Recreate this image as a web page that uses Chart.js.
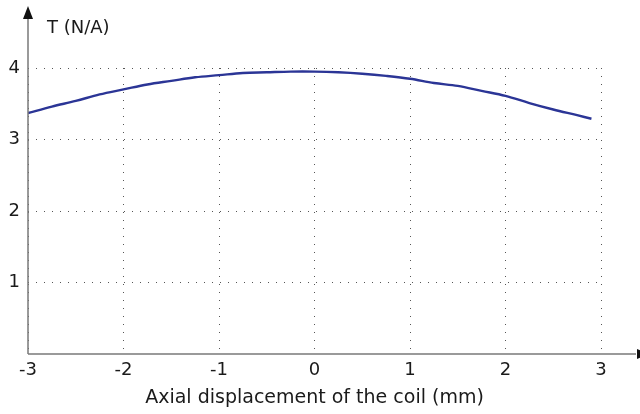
<!DOCTYPE html>
<html>
<head>
<meta charset="utf-8">
<script src="https://cdn.jsdelivr.net/npm/chart.js@4"></script>
<style>
  html, body { margin: 0; padding: 0; background: #fff; }
  #wrap { width: 640px; height: 414px; }
</style>
</head>
<body>
<div id="wrap"><canvas id="chart" width="640" height="414"></canvas></div>
<script>
'use strict';

// displacement of the coil (mm)
const displacement = [
    -3, -2.75, -2.5, -2.25, -2, -1.75, -1.5, -1.25, -1, -0.75, -0.5, -0.25,
    0, 0.25, 0.5, 0.75, 1, 1.25, 1.5, 1.75, 2, 2.25, 2.5, 2.75, 2.9
];
// force constant T (N/A)
const forceConstant = [
    3.37, 3.46, 3.54, 3.63, 3.70, 3.77, 3.82, 3.87, 3.90, 3.93, 3.94, 3.95,
    3.95, 3.94, 3.92, 3.89, 3.85, 3.79, 3.75, 3.68, 3.61, 3.51, 3.42, 3.34, 3.29
];
const xTicks = [-3, -2, -1, 0, 1, 2, 3];
const yTicks = [1, 2, 3, 4];

const fontFamily = '"Comic Sans MS", "DejaVu Sans", sans-serif';
const axisColor = '#7a7a7a';

// axes with arrow heads and the y axis caption
const axesPlugin = {
    id: 'axes',
    afterDraw(chart) {
        const ctx = chart.ctx;
        const area = chart.chartArea;
        ctx.save();
        ctx.strokeStyle = axisColor;
        ctx.lineWidth = 1.5;
        ctx.beginPath();
        ctx.moveTo(area.left, area.bottom);
        ctx.lineTo(area.left, 16);
        ctx.moveTo(area.left, area.bottom);
        ctx.lineTo(636, area.bottom);
        ctx.stroke();

        ctx.fillStyle = '#111';
        ctx.beginPath();
        ctx.moveTo(area.left, 6);
        ctx.lineTo(area.left - 5, 19);
        ctx.lineTo(area.left + 5, 19);
        ctx.closePath();
        ctx.fill();
        ctx.beginPath();
        ctx.moveTo(650, area.bottom);
        ctx.lineTo(637, area.bottom - 5);
        ctx.lineTo(637, area.bottom + 5);
        ctx.closePath();
        ctx.fill();

        ctx.fillStyle = '#1a1a1a';
        ctx.font = '18px ' + fontFamily;
        ctx.textBaseline = 'middle';
        ctx.textAlign = 'left';
        ctx.fillText('T (N/A)', 47, 28);
        ctx.restore();
    }
};

new Chart(document.getElementById('chart'), {
    type: 'line',
    data: {
        datasets: [{
            data: displacement.map((x, i) => ({ x, y: forceConstant[i] })),
            borderColor: '#2b3596',
            borderWidth: 2.4,
            pointRadius: 0,
            tension: 0.35,
            fill: false
        }]
    },
    options: {
        responsive: false,
        animation: false,
        layout: { padding: { top: 68, right: 39, left: 0, bottom: 0 } },
        plugins: {
            legend: { display: false },
            tooltip: { enabled: false }
        },
        scales: {
            x: {
                type: 'linear',
                min: -3,
                max: 3,
                afterFit(scale) { scale.height = 60; },
                afterBuildTicks(scale) { scale.ticks = xTicks.map(v => ({ value: v })); },
                border: { display: false, dash: [1, 7] },
                grid: {
                    color: '#555',
                    lineWidth: 1,
                    drawTicks: false
                },
                ticks: {
                    padding: 6,
                    color: '#1a1a1a',
                    font: { family: fontFamily, size: 18 }
                },
                title: {
                    display: true,
                    text: 'Axial displacement of the coil (mm)',
                    color: '#1a1a1a',
                    font: { family: fontFamily, size: 19 },
                    padding: { top: 0, bottom: 5 }
                }
            },
            y: {
                min: 0,
                max: 4,
                afterFit(scale) { scale.width = 28; },
                afterBuildTicks(scale) { scale.ticks = yTicks.map(v => ({ value: v })); },
                border: { display: false, dash: [1, 7] },
                grid: {
                    color: '#555',
                    lineWidth: 1,
                    drawTicks: false
                },
                ticks: {
                    padding: 8,
                    color: '#1a1a1a',
                    font: { family: fontFamily, size: 18 }
                }
            }
        }
    },
    plugins: [axesPlugin]
});
</script>
</body>
</html>
